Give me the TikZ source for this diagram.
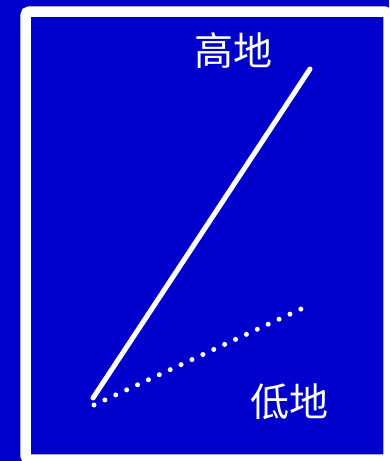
\documentclass[tikz,border=0pt]{standalone}
\usepackage{fontspec}
\newfontfamily\cjk{Noto Sans CJK SC}
\definecolor{bgblue}{RGB}{0,0,204}
\begin{document}
\begin{tikzpicture}[x=1pt,y=-1pt,
  lbl/.style={text=white,font=\cjk\fontsize{39}{39}\selectfont,inner sep=0pt},
  solidline/.style={draw=white,line width=5pt,line cap=round},
  dotline/.style={draw=white,line width=5pt,line cap=round,dash pattern=on 0pt off 12pt}]
\useasboundingbox (0,0) rectangle (389,461);
\clip (0,0) rectangle (389,461);
\fill[bgblue] (0,0) rectangle (389,461);
\draw[white,line width=10.5pt,rounded corners=4pt] (25.5,11.5) rectangle (388.5,459.5);
\coordinate (s1) at (93,398);
\coordinate (s2) at (310,69);
\coordinate (d1) at (94,405);
\coordinate (d2) at (301,309);
\draw[solidline] (s1) -- (s2);
\draw[dotline] (d1) -- (d2);
\node[lbl] (high) at (233,51) {高地};
\node[lbl] (low) at (289,402) {低地};
\end{tikzpicture}
\end{document}
